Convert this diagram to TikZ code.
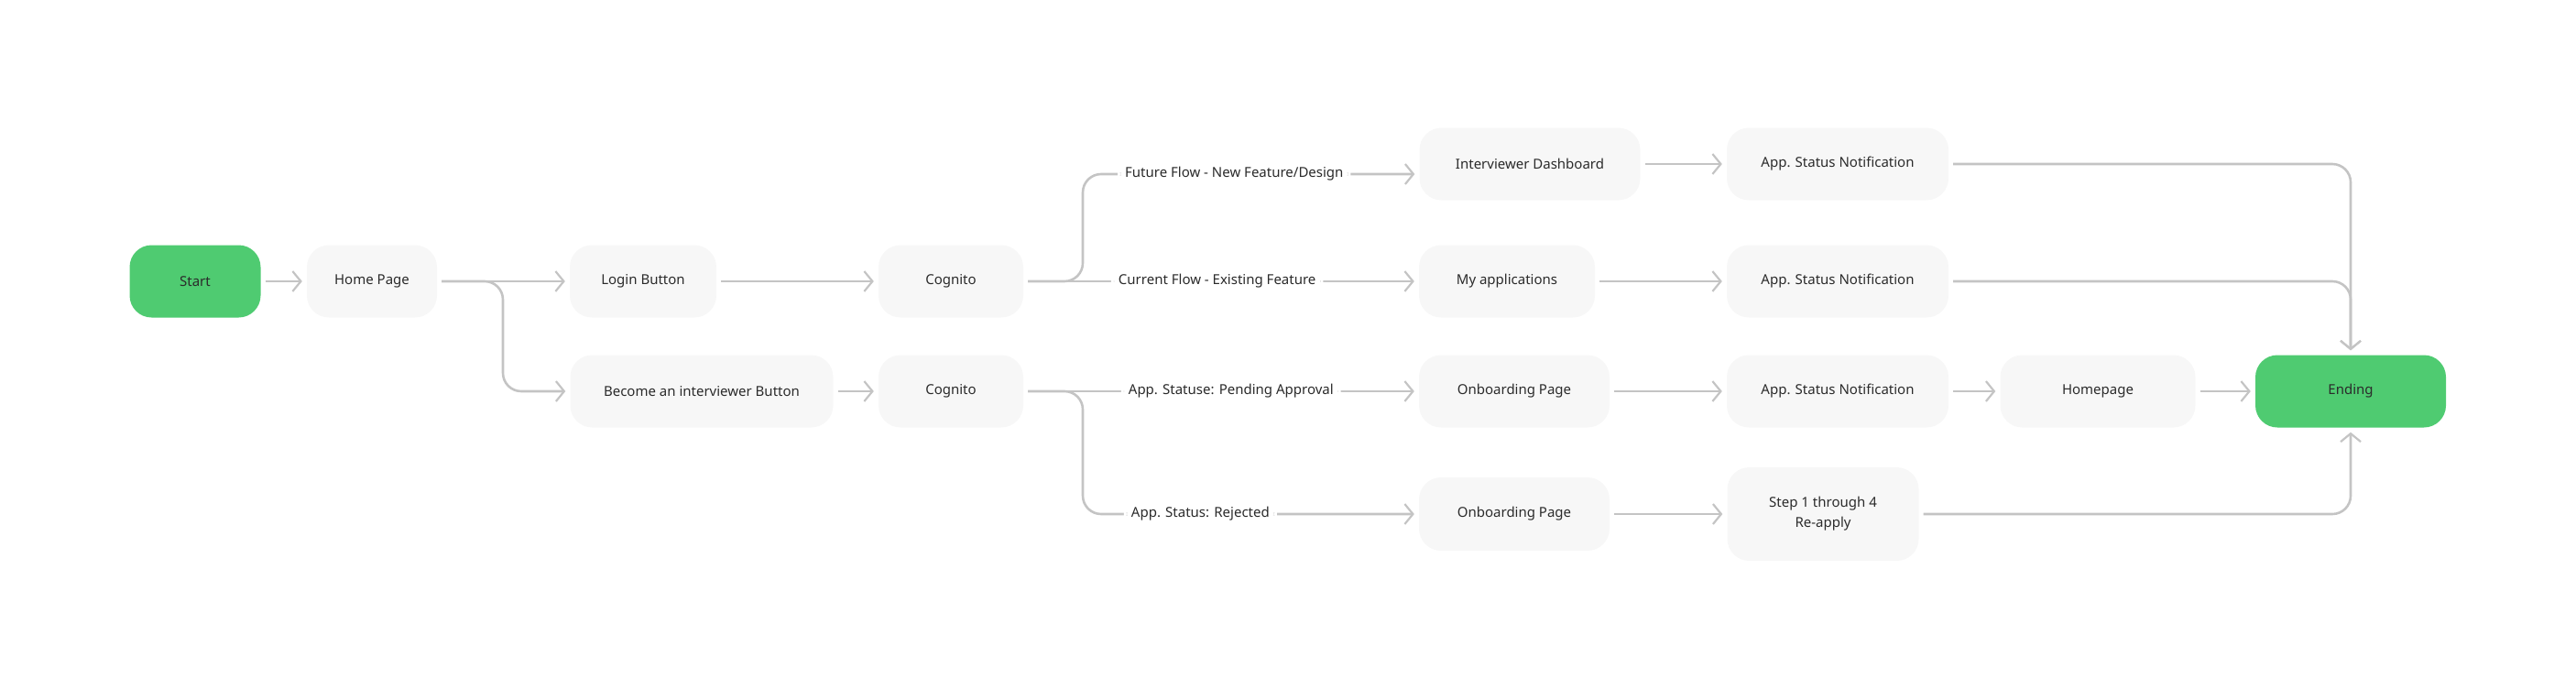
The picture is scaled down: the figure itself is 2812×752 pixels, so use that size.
\documentclass[tikz,border=0pt]{standalone}
\usepackage{fontspec}
\setmainfont{Noto Sans}
\usetikzlibrary{arrows.meta}
\definecolor{boxc}{HTML}{F7F7F7}
\definecolor{grn}{HTML}{4FCB71}
\definecolor{linec}{HTML}{C4C4C4}
\definecolor{txt}{HTML}{2B2B2B}
\begin{document}
\begin{tikzpicture}[x=1pt,y=1pt,
  box/.style={fill=boxc,rounded corners=24pt,minimum height=79pt,text=txt,font=\fontsize{15}{22}\selectfont,inner sep=0pt,align=center},
  gbox/.style={box,fill=grn},
  conn/.style={draw=linec,line width=2.6pt,rounded corners=20pt,-{Straight Barb[length=9pt,width=22pt,line width=2.2pt]},shorten >=5pt,shorten <=5pt},
  lbl/.style={fill=white,text=txt,font=\fontsize{15}{18}\selectfont,inner xsep=8pt,inner ysep=2pt}]
\useasboundingbox (0,0) rectangle (2812,-752);
\node[gbox,minimum width=143pt] (start) at (213,-307) {Start};
\node[box,minimum width=142pt] (home) at (406,-307) {Home Page};
\node[box,minimum width=160pt] (login) at (702,-307) {Login Button};
\node[box,minimum width=158pt] (cog1) at (1038,-307) {Cognito};
\node[box,minimum width=287pt] (become) at (766,-427) {Become an interviewer Button};
\node[box,minimum width=158pt] (cog2) at (1038,-427) {Cognito};
\node[box,minimum width=241pt] (dash) at (1670,-179) {Interviewer Dashboard};
\node[box,minimum width=242pt] (n1) at (2006,-179) {App. Status Notification};
\node[box,minimum width=192pt] (myapp) at (1645,-307) {My applications};
\node[box,minimum width=242pt] (n2) at (2006,-307) {App. Status Notification};
\node[box,minimum width=208pt] (onb1) at (1653,-427) {Onboarding Page};
\node[box,minimum width=242pt] (n3) at (2006,-427) {App. Status Notification};
\node[box,minimum width=213pt] (hp) at (2290,-427) {Homepage};
\node[gbox,minimum width=208pt] (end) at (2566,-427) {Ending};
\node[box,minimum width=208pt,minimum height=80pt] (onb2) at (1653,-561) {Onboarding Page};
\node[box,minimum width=209pt,minimum height=102pt] (step) at (1990,-561) {Step 1 through 4\\Re-apply};

\draw[conn] (start) -- (home);
\draw[conn] (home) -- (login);
\draw[conn] (home.east) -- (549,-307) -- (549,-427) -- (become.west);
\draw[conn] (login) -- (cog1);
\draw[conn] (become) -- (cog2);
\draw[conn] (cog1.east) -- (1182,-307) -- (1182,-190) -- node[lbl,pos=0.45]{Future Flow - New Feature/Design} (dash.west |- 0,-190);
\draw[conn] (cog1) -- node[lbl,pos=0.49]{Current Flow - Existing Feature} (myapp);
\draw[conn] (cog2) -- node[lbl,pos=0.525]{App. Statuse: Pending Approval} (onb1);
\draw[conn] (cog2.east) -- (1182,-427) -- (1182,-561) -- node[lbl,pos=0.35]{App. Status: Rejected} (onb2.west);
\draw[conn] (dash) -- (n1);
\draw[conn] (myapp) -- (n2);
\draw[conn] (onb1) -- (n3);
\draw[conn] (n3) -- (hp);
\draw[conn] (hp) -- (end);
\draw[conn] (onb2) -- (step);
\draw[conn] (n1.east) -- (end.north |- n1.east) -- (end.north);
\draw[conn] (n2.east) -- (end.north |- n2.east) -- (end.north);
\draw[conn] (step.east) -- (end.south |- step.east) -- (end.south);
\end{tikzpicture}
\end{document}
